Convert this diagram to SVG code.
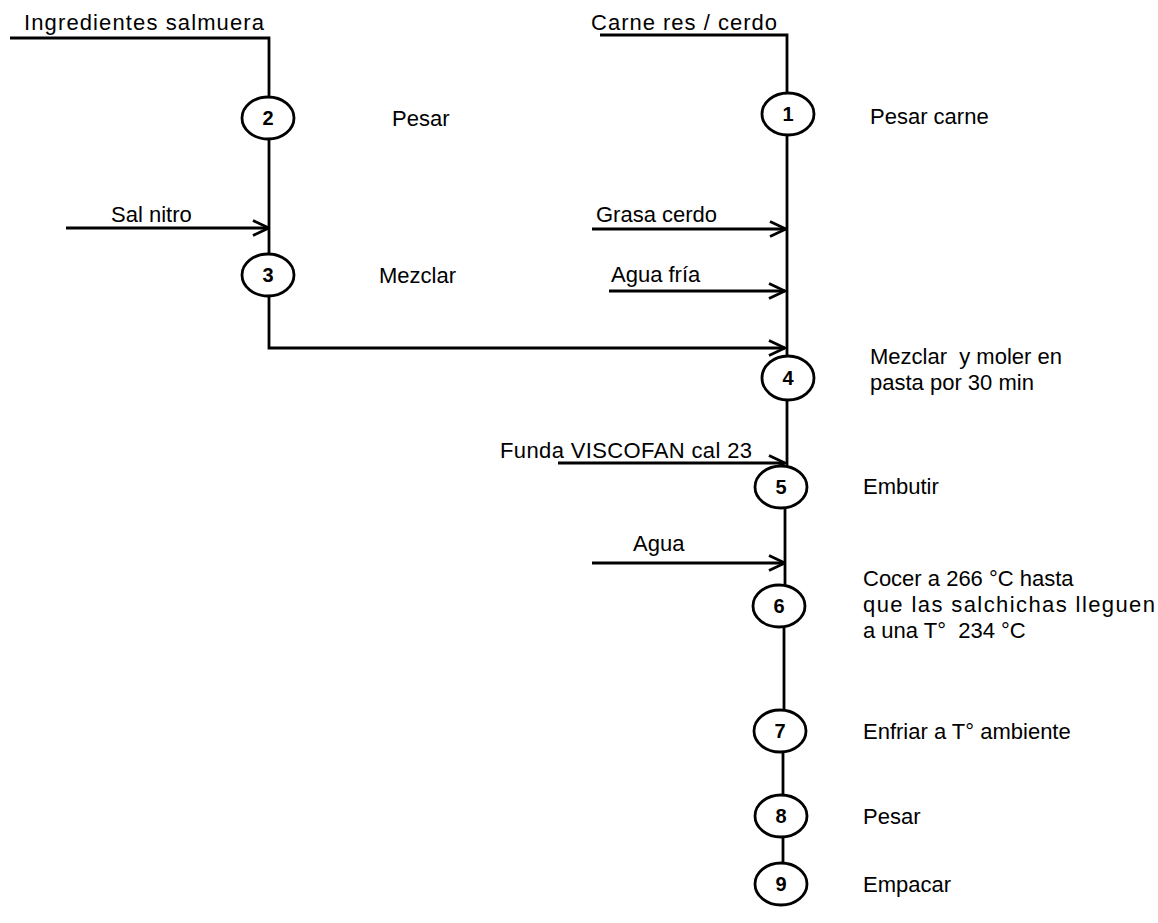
<svg xmlns="http://www.w3.org/2000/svg" width="1158" height="923" viewBox="0 0 1158 923">
<defs>
<style>
.t{font-family:"Liberation Sans",Arial,sans-serif;font-size:22px;fill:#000;white-space:pre}
.n{font-family:"Liberation Sans",Arial,sans-serif;font-size:20px;font-weight:bold;fill:#000;text-anchor:middle}
.c{fill:#fff;stroke:#000;stroke-width:2.8}
.l{fill:none;stroke:#000;stroke-width:2.8}
</style>
<marker id="ah" viewBox="0 0 18 18" refX="17" refY="9" markerWidth="18" markerHeight="18" markerUnits="userSpaceOnUse" orient="auto">
<path d="M1,1.5 L17,9 L1,16.5" fill="none" stroke="#000" stroke-width="2.8"/>
</marker>
</defs>
<rect width="1158" height="923" fill="#fff"/>
<g id="connectors">
<path class="l" d="M10,38 H269 V98"/>
<path class="l" d="M269,138 V255"/>
<path class="l" d="M269,295 V348 H785" marker-end="url(#ah)"/>
<path class="l" d="M66,228 H269" marker-end="url(#ah)"/>
<path class="l" d="M600,35 H787 V94"/>
<path class="l" d="M787,134 V357"/>
<path class="l" d="M592,229 H786" marker-end="url(#ah)"/>
<path class="l" d="M609,291 H785" marker-end="url(#ah)"/>
<path class="l" d="M558,463 H785" marker-end="url(#ah)"/>
<path class="l" d="M592,563 H785" marker-end="url(#ah)"/>
<path class="l" d="M787,399 V468"/>
<path class="l" d="M785,506 V587"/>
<path class="l" d="M784,625 V712"/>
<path class="l" d="M783,750 V797"/>
<path class="l" d="M783,835 V865"/>
</g>
<g id="in-salmuera"><text class="t" x="24" y="30" textLength="240" lengthAdjust="spacing">Ingredientes salmuera</text></g>
<g id="in-carne"><text class="t" x="591" y="30" textLength="186" lengthAdjust="spacing">Carne res / cerdo</text></g>
<g id="in-sal"><text class="t" x="111" y="222">Sal nitro</text></g>
<g id="in-grasa"><text class="t" x="596" y="222">Grasa cerdo</text></g>
<g id="in-agua-fria"><text class="t" x="611" y="282">Agua fría</text></g>
<g id="in-funda"><text class="t" x="500" y="458" textLength="252" lengthAdjust="spacing">Funda VISCOFAN cal 23</text></g>
<g id="in-agua"><text class="t" x="633" y="551">Agua</text></g>
<g id="n2"><ellipse class="c" cx="268" cy="118" rx="26" ry="21"/><text class="n" x="268" y="125">2</text><text class="t" x="392" y="126">Pesar</text></g>
<g id="n3"><ellipse class="c" cx="268" cy="275" rx="26" ry="21"/><text class="n" x="268" y="282">3</text><text class="t" x="379" y="283">Mezclar</text></g>
<g id="n1"><ellipse class="c" cx="788" cy="114" rx="26" ry="21"/><text class="n" x="788" y="121">1</text><text class="t" x="870" y="124">Pesar carne</text></g>
<g id="n4"><ellipse class="c" cx="788" cy="378" rx="26" ry="22"/><text class="n" x="788" y="385">4</text><text class="t" x="870" y="364">Mezclar  y moler en</text><text class="t" x="870" y="390">pasta por 30 min</text></g>
<g id="n5"><ellipse class="c" cx="781" cy="487" rx="26" ry="21"/><text class="n" x="781" y="494">5</text><text class="t" x="863" y="494">Embutir</text></g>
<g id="n6"><ellipse class="c" cx="779" cy="606" rx="26" ry="21"/><text class="n" x="779" y="613">6</text><text class="t" x="863" y="586">Cocer a 266 °C hasta</text><text class="t" x="863" y="612" textLength="292" lengthAdjust="spacing">que las salchichas lleguen</text><text class="t" x="863" y="638">a una T°  234 °C</text></g>
<g id="n7"><ellipse class="c" cx="780" cy="731" rx="26" ry="21"/><text class="n" x="780" y="738">7</text><text class="t" x="863" y="739">Enfriar a T° ambiente</text></g>
<g id="n8"><ellipse class="c" cx="781" cy="816" rx="26" ry="21"/><text class="n" x="781" y="823">8</text><text class="t" x="863" y="824">Pesar</text></g>
<g id="n9"><ellipse class="c" cx="781" cy="884" rx="26" ry="21"/><text class="n" x="781" y="891">9</text><text class="t" x="863" y="892">Empacar</text></g>
</svg>
